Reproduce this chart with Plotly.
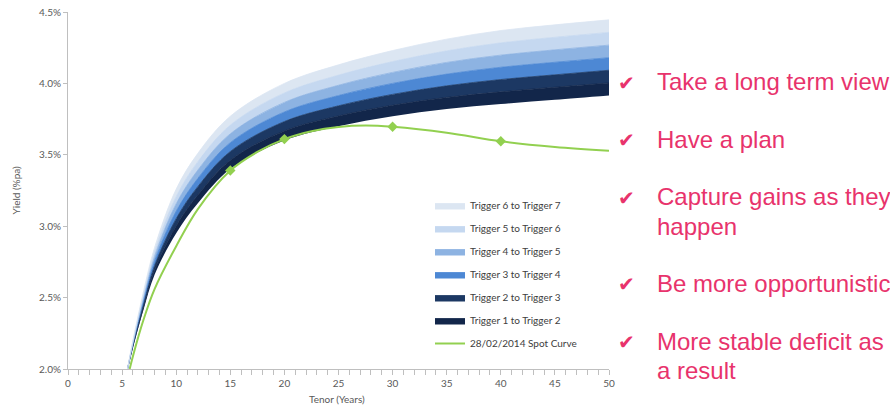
import plotly.graph_objects as go

# Tenor grid (years) for the trigger ribbons
tenors = [5.5, 6, 7, 8, 10, 12, 15, 20, 25, 30, 35, 40, 45, 50]

# Trigger yield levels (% pa), lowest (Trigger 1) to highest (Trigger 7)
trigger_1 = [2.00, 2.150, 2.420, 2.660, 2.950, 3.160, 3.400, 3.600, 3.700, 3.770, 3.820, 3.855, 3.885, 3.915]
trigger_2 = [2.00, 2.158, 2.442, 2.692, 3.002, 3.218, 3.462, 3.667, 3.772, 3.847, 3.902, 3.941, 3.973, 4.003]
trigger_3 = [2.00, 2.167, 2.463, 2.723, 3.053, 3.277, 3.523, 3.733, 3.843, 3.923, 3.983, 4.027, 4.060, 4.092]
trigger_4 = [2.00, 2.175, 2.485, 2.755, 3.105, 3.335, 3.585, 3.800, 3.915, 4.000, 4.065, 4.113, 4.148, 4.180]
trigger_5 = [2.00, 2.183, 2.507, 2.787, 3.157, 3.393, 3.647, 3.867, 3.987, 4.077, 4.147, 4.198, 4.235, 4.268]
trigger_6 = [2.00, 2.192, 2.528, 2.818, 3.208, 3.452, 3.708, 3.933, 4.058, 4.153, 4.228, 4.284, 4.323, 4.357]
trigger_7 = [2.00, 2.200, 2.550, 2.850, 3.260, 3.510, 3.770, 4.000, 4.130, 4.230, 4.310, 4.370, 4.410, 4.445]

# 28/02/2014 spot curve
spot_tenors = [5.7, 6, 7, 8, 10, 12, 15, 17.5, 20, 22.5, 25, 27.5, 30, 35, 40, 45, 50]
spot_yields = [2.0, 2.09, 2.35, 2.56, 2.86, 3.12, 3.39, 3.52, 3.61, 3.665, 3.695, 3.705, 3.696,
               3.655, 3.595, 3.555, 3.528]
spot_marker_tenors = [15, 20, 30, 40]

band_names = ["Trigger 1 to Trigger 2", "Trigger 2 to Trigger 3", "Trigger 3 to Trigger 4",
              "Trigger 4 to Trigger 5", "Trigger 5 to Trigger 6", "Trigger 6 to Trigger 7"]
band_colors = ["#12264a", "#1c3863", "#4d88d4", "#8db3e2", "#c5d8f0", "#dce6f2"]

bullets = [
    ["Take a long term view"],
    ["Have a plan"],
    ["Capture gains as they", "happen"],
    ["Be more opportunistic"],
    ["More stable deficit as", "a result"],
]

levels = [trigger_1, trigger_2, trigger_3, trigger_4, trigger_5, trigger_6, trigger_7]

fig = go.Figure()

# base line for the stacked ribbons
fig.add_trace(go.Scatter(
    x=tenors, y=trigger_1, mode="lines",
    line=dict(width=0, shape="spline", color=band_colors[0]),
    showlegend=False, hoverinfo="skip",
))

for i, name in enumerate(band_names):
    fig.add_trace(go.Scatter(
        x=tenors, y=levels[i + 1], mode="lines", name=name,
        line=dict(width=0.8, shape="spline", color=band_colors[i]),
        fill="tonexty", fillcolor=band_colors[i],
        legendgroup=name, legendrank=len(band_names) - i,
        hoverinfo="skip",
    ))

spot_name = "28/02/2014 Spot Curve"
fig.add_trace(go.Scatter(
    x=spot_tenors, y=spot_yields, mode="lines", name=spot_name,
    line=dict(color="#92d050", width=2, shape="spline"),
    legendgroup=spot_name, legendrank=10,
))
lookup = dict(zip(spot_tenors, spot_yields))
fig.add_trace(go.Scatter(
    x=spot_marker_tenors, y=[lookup[t] for t in spot_marker_tenors], mode="markers",
    marker=dict(symbol="diamond", size=8, color="#92d050"),
    showlegend=False, legendgroup=spot_name,
))

# bullet list to the right of the chart
W, H = 890, 408
L, R, T, B = 68, 281, 12, 39
pw, ph = W - L - R, H - T - B


def px_to_paper(px, py):
    return (px - L) / pw, (H - B - py) / ph


pink = "#e8336c"
line_rows = [[82], [139], [197, 226], [283], [341, 370]]
for lines, rows in zip(bullets, line_rows):
    cx, cy = px_to_paper(626, rows[0] + 1)
    fig.add_annotation(x=cx, y=cy, xref="paper", yref="paper", text="\u2714",
                       showarrow=False, xanchor="center", yanchor="middle",
                       font=dict(family="DejaVu Sans", size=20, color=pink))
    for txt, py in zip(lines, rows):
        tx, ty = px_to_paper(655, py)
        fig.add_annotation(x=tx, y=ty, xref="paper", yref="paper", text=txt,
                           showarrow=False, xanchor="left", yanchor="middle",
                           font=dict(family="Liberation Sans", size=24, color=pink))

# axis titles
xt_x, xt_y = px_to_paper(337, 399)
fig.add_annotation(x=xt_x, y=xt_y, xref="paper", yref="paper", text="Tenor (Years)",
                   showarrow=False, xanchor="center", yanchor="middle",
                   font=dict(family="Lato", size=10, color="#595959"))
yt_x, yt_y = px_to_paper(15, 190.5)
fig.add_annotation(x=yt_x, y=yt_y, xref="paper", yref="paper", text="Yield (%pa)",
                   showarrow=False, xanchor="center", yanchor="middle", textangle=-90,
                   font=dict(family="Lato", size=10, color="#595959"))

axis_grey = "#bfbfbf"
label_grey = "#595959"
lx, ly = px_to_paper(430, 191)

fig.update_layout(
    width=W, height=H,
    margin=dict(l=L, r=R, t=T, b=B, autoexpand=False),
    paper_bgcolor="white", plot_bgcolor="white",
    font=dict(family="Lato", size=10, color=label_grey),
    legend=dict(x=lx, y=ly, xanchor="left", yanchor="top",
                traceorder="grouped", tracegroupgap=4,
                font=dict(family="Lato", size=10, color="#404040"),
                bgcolor="rgba(0,0,0,0)"),
    xaxis=dict(
        range=[0, 50], dtick=5, tick0=0, showgrid=False, zeroline=False,
        showline=True, linecolor=axis_grey, linewidth=1, automargin=False,
        ticks="outside", ticklen=5, tickcolor=axis_grey,
        minor=dict(dtick=1, ticks="outside", ticklen=5, tickcolor=axis_grey, showgrid=False),
        tickfont=dict(size=10, color=label_grey),
    ),
    yaxis=dict(
        range=[2.0, 4.5], dtick=0.5, tick0=2.0, showgrid=False, zeroline=False,
        showline=True, linecolor=axis_grey, linewidth=1, automargin=False,
        ticks="outside", ticklen=4, tickcolor=axis_grey,
        tickformat=".1f", ticksuffix="%",
        tickfont=dict(size=10, color=label_grey),
    ),
)

fig.write_html("out.html")
